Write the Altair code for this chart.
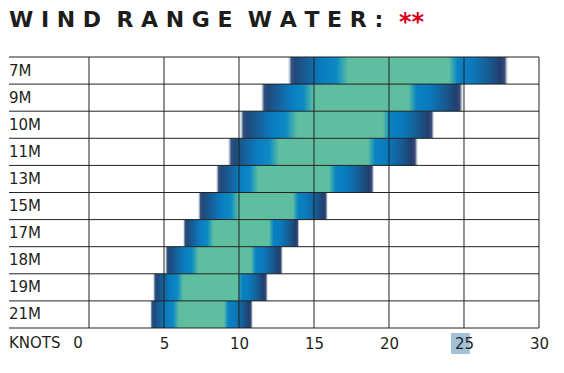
import altair as alt
import pandas as pd

# ---- data ----
sizes = ["7M", "9M", "10M", "11M", "13M", "15M", "17M", "18M", "19M", "21M"]
wind_min = [13.3, 11.5, 10.1, 9.3, 8.5, 7.3, 6.3, 5.1, 4.3, 4.1]     # start of usable range
best_min = [17.3, 15.0, 13.9, 12.7, 11.3, 10.0, 8.3, 7.3, 6.3, 6.0]  # start of sweet spot (green)
best_max = [24.0, 21.3, 19.6, 18.6, 16.0, 13.6, 12.0, 10.8, 9.9, 9.0]  # end of sweet spot
wind_max = [27.9, 24.9, 23.0, 21.9, 19.0, 15.9, 14.0, 12.9, 11.9, 10.9]  # end of usable range
ticks = [0, 5, 10, 15, 20, 25, 30]
first_tick = [0]
highlight_tick = [25]
axis_word = ["KNOTS"]
title_words = ["WIND", "RANGE", "WATER:"]
title_mark = ["**"]

# ---- styling ----
GREEN = "#60bea0"
LINE = "#222222"
TEXT = "#231f20"
FONT = "DejaVu Sans"

df = pd.DataFrame({
    "size": sizes,
    "lo": wind_min,
    "glo": best_min,
    "ghi": best_max,
    "hi": wind_max,
})
df["row"] = range(len(sizes))
df["row_end"] = df["row"] + 1
df["row_mid"] = df["row"] + 0.5

rows_df = pd.DataFrame({"b": list(range(len(sizes) + 1))})
ticks_df = pd.DataFrame({"t": ticks})
first_df = pd.DataFrame({"t": first_tick, "s": [str(v) for v in first_tick]})
hl_df = pd.DataFrame({"t": highlight_tick})
knots_df = pd.DataFrame({"w": axis_word})
mark_df = pd.DataFrame({"w": title_mark})
title_df = pd.DataFrame({"w": ["\u00a0\u00a0".join(" ".join(list(w)) for w in title_words)]})

x_scale = alt.Scale(domain=[-5.333, 30], nice=False, zero=False)
y_scale = alt.Scale(domain=[0, len(sizes)], reverse=True, nice=False, zero=False)

left_grad = alt.Gradient(
    gradient="linear", x1=0, x2=1, y1=0, y2=0,
    stops=[
        alt.GradientStop(color="#ffffff", offset=0.0),
        alt.GradientStop(color="#3a4f7e", offset=0.05),
        alt.GradientStop(color="#1d4a7c", offset=0.12),
        alt.GradientStop(color="#16609a", offset=0.32),
        alt.GradientStop(color="#0a7cc0", offset=0.55),
        alt.GradientStop(color="#0d8ac3", offset=0.8),
        alt.GradientStop(color="#35a6b2", offset=0.9),
        alt.GradientStop(color=GREEN, offset=1.0),
    ],
)
right_grad = alt.Gradient(
    gradient="linear", x1=0, x2=1, y1=0, y2=0,
    stops=[
        alt.GradientStop(color=GREEN, offset=0.0),
        alt.GradientStop(color="#2fa3b4", offset=0.07),
        alt.GradientStop(color="#0a82c2", offset=0.15),
        alt.GradientStop(color="#0a7abd", offset=0.38),
        alt.GradientStop(color="#175b92", offset=0.68),
        alt.GradientStop(color="#213f6e", offset=0.88),
        alt.GradientStop(color="#3c4a78", offset=0.95),
        alt.GradientStop(color="#ffffff", offset=1.0),
    ],
)

x_axis = alt.Axis(
    values=ticks, grid=False, domain=False, ticks=False, tickSize=0,
    labelFont=FONT, labelFontSize=15, labelColor=TEXT,
    labelBaseline="middle", labelPadding=15, labelFlush=False,
    labelOverlap=False, title=None, zindex=1,
    labelExpr="datum.value == 0 ? '' : datum.label",
)

base = alt.Chart(df)

full_bar = base.mark_rect(color=GREEN).encode(
    x=alt.X("lo:Q", scale=x_scale, axis=x_axis),
    x2="hi:Q",
    y=alt.Y("row:Q", scale=y_scale, axis=None),
    y2="row_end:Q",
)
left_part = base.mark_rect(color=left_grad).encode(
    x=alt.X("lo:Q", scale=x_scale), x2="glo:Q",
    y=alt.Y("row:Q", scale=y_scale), y2="row_end:Q",
)
right_part = base.mark_rect(color=right_grad).encode(
    x=alt.X("ghi:Q", scale=x_scale), x2="hi:Q",
    y=alt.Y("row:Q", scale=y_scale), y2="row_end:Q",
)

h_lines = alt.Chart(rows_df).mark_rule(color=LINE, strokeWidth=1).encode(
    y=alt.Y("b:Q", scale=y_scale)
)
v_lines = alt.Chart(ticks_df).mark_rule(color=LINE, strokeWidth=1).encode(
    x=alt.X("t:Q", scale=x_scale)
)

row_labels = base.mark_text(
    align="left", baseline="middle", font=FONT, fontSize=15, color=TEXT
).encode(
    x=alt.value(0),
    y=alt.Y("row_mid:Q", scale=y_scale),
    text="size:N",
)

highlight = alt.Chart(hl_df).mark_point(
    shape="M-1.24,-1H0.56V1H-1.24Z", filled=True, size=441,
    color="#a4c2d7", opacity=1, strokeWidth=0,
).encode(
    x=alt.X("t:Q", scale=x_scale),
    y=alt.value(286.5),
)

first_label = alt.Chart(first_df).mark_text(
    align="center", baseline="middle", font=FONT, fontSize=15, color=TEXT, dx=-11
).encode(x=alt.X("t:Q", scale=x_scale), y=alt.value(286), text="s:N")

knots = alt.Chart(knots_df).mark_text(
    align="left", baseline="middle", font=FONT, fontSize=15, color=TEXT
).encode(x=alt.value(0), y=alt.value(286), text="w:N")

title = alt.Chart(title_df).mark_text(
    align="left", baseline="top", font=FONT, fontSize=22, fontWeight="bold",
    color="#1d1d1b"
).encode(x=alt.value(0), y=alt.value(-47), text="w:N")

stars = alt.Chart(mark_df).mark_text(
    align="left", baseline="top", font=FONT, fontSize=24, fontWeight="bold",
    color="#d6001c"
).encode(x=alt.value(390), y=alt.value(-46), text="w:N")

chart = alt.layer(
    full_bar, left_part, right_part, h_lines, v_lines,
    row_labels, highlight, first_label, knots, title, stars,
).properties(
    width=530,
    height=271,
    padding={"left": 0, "top": 1, "right": 5, "bottom": 0},
).configure_view(stroke=None)

chart.save("out.html", embed_options={"renderer": "svg", "actions": False})
